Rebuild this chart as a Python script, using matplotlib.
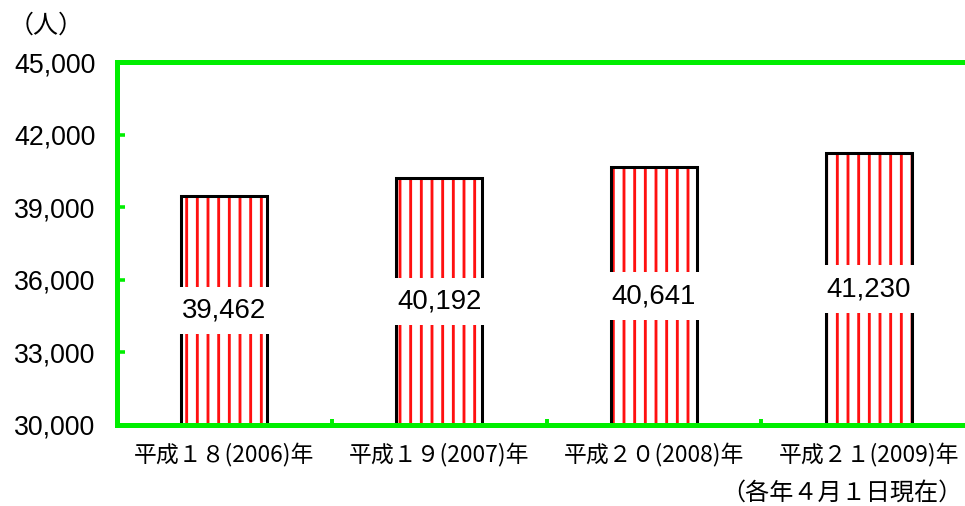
import matplotlib
matplotlib.use("Agg")
import matplotlib.pyplot as plt
from matplotlib.ticker import FuncFormatter, MultipleLocator, FixedLocator

plt.rcParams['font.family'] = ['Liberation Sans', 'Noto Sans CJK JP', 'DejaVu Sans']
plt.rcParams['hatch.linewidth'] = 1.6

years = ["平成１８(2006)年", "平成１９(2007)年", "平成２０(2008)年", "平成２１(2009)年"]
people = [39462, 40192, 40641, 41230]

DPI = 128.6
GREEN = '#00ee00'

fig = plt.figure(figsize=(965 / DPI, 506 / DPI), dpi=DPI)
# axes run a little past the right edge, so no right frame line shows
ax = fig.add_axes([117 / 965, 81 / 506, 859 / 965, 363 / 506])

x = list(range(len(years)))
base = 30000
heights = [v - base for v in people]
ax.bar(x, heights, width=0.4, bottom=base, color='white', edgecolor='#ff1010',
       hatch='||', linewidth=0, zorder=1)
ax.bar(x, heights, width=0.4, bottom=base, fill=False, edgecolor='black',
       linewidth=1.7, zorder=1.1)

for xi, v in zip(x, people):
    ax.text(xi, (base + v) / 2, f"{v:,}", ha='center', va='center',
            fontsize=15.5, family='Liberation Sans', zorder=3,
            bbox=dict(facecolor='white', edgecolor='none', pad=6))

ax.set_xlim(-0.5, 3.5)
ax.set_ylim(30000, 45000)
ax.yaxis.set_major_locator(MultipleLocator(3000))
ax.yaxis.set_major_formatter(FuncFormatter(lambda v, p: f"{int(v):,}"))
ax.set_xticks(x)
ax.set_xticklabels(years, family=['Noto Sans CJK JP'], fontsize=12.8)
ax.xaxis.set_minor_locator(FixedLocator([0.5, 1.5, 2.5]))

ax.tick_params(axis='x', which='major', length=0, pad=10)
ax.tick_params(axis='x', which='minor', direction='in', length=3.6,
               width=2.2, color=GREEN)
ax.tick_params(axis='y', direction='in', length=4.5, width=2, color=GREEN,
               labelsize=15, pad=12)

for side in ['left', 'top', 'bottom']:
    ax.spines[side].set_color(GREEN)
    ax.spines[side].set_linewidth(2.8)
ax.spines['right'].set_visible(False)

fig.text(9 / 965, 1 - 26 / 506, "（人）", ha='left', va='center',
         fontsize=14, family=['Noto Sans CJK JP'])
fig.text(962 / 965, 1 - 493 / 506, "（各年４月１日現在）", ha='right',
         va='center', fontsize=13.5, family=['Noto Sans CJK JP'])

fig.savefig("out.png", dpi=DPI)
